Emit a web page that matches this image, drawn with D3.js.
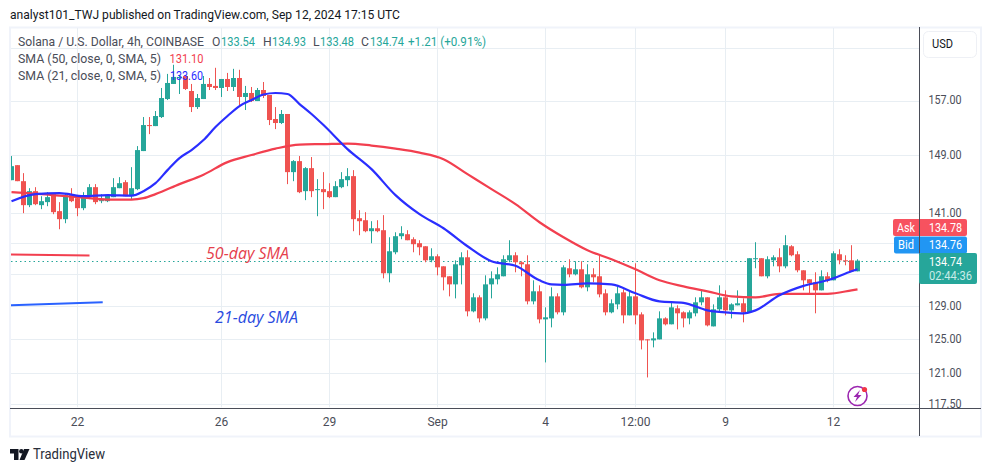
<!DOCTYPE html>
<html><head><meta charset="utf-8">
<script src="https://cdn.jsdelivr.net/npm/d3@7/dist/d3.min.js"></script>
<style>html,body{margin:0;padding:0;background:#fff;overflow:hidden}svg{display:block}text{font-family:Roboto,sans-serif}</style>
</head><body><svg id="c" width="991" height="472"></svg>
<script>
const opens=[145.50,147.60,145.36,142.07,143.98,142.07,142.48,143.57,141.26,140.18,143.43,143.02,141.66,143.16,144.53,142.61,142.61,143.16,144.39,145.22,143.29,144.26,149.60,153.36,153.21,154.54,157.22,159.50,160.41,160.72,158.43,156.02,157.22,159.50,159.20,158.89,160.26,159.04,160.41,157.53,158.13,156.92,158.58,157.83,154.25,153.66,154.99,146.62,148.17,143.98,147.18,144.12,144.26,143.98,143.16,144.53,145.50,146.06,140.31,140.04,138.58,138.97,138.71,133.12,135.82,137.92,138.18,137.52,137.00,136.60,134.78,135.30,134.01,132.74,131.72,134.14,135.17,128.37,130.10,127.51,131.72,132.36,132.74,134.78,135.43,134.53,134.27,129.60,130.85,127.39,127.51,130.22,128.25,133.76,132.99,133.63,131.35,132.99,132.74,130.60,128.25,129.23,130.72,127.88,130.22,128.00,124.98,124.86,124.98,127.51,126.79,128.74,128.25,127.51,128.13,129.48,130.10,126.54,128.62,130.10,128.49,129.11,129.36,128.25,134.92,135.05,132.74,134.78,135.17,134.01,136.60,135.56,133.50,132.36,131.98,130.97,132.74,132.23,135.56,134.78,134.78,133.37];
const highs=[148.89,147.60,146.48,144.39,144.53,143.29,143.84,143.71,142.48,143.57,144.39,143.43,143.84,144.95,144.95,143.57,143.57,145.78,145.92,145.50,147.32,150.31,154.54,154.54,155.43,158.89,161.04,162.45,160.88,160.72,159.50,157.98,160.72,160.41,161.98,160.26,161.19,161.82,161.67,159.20,159.04,158.89,159.80,157.83,156.02,155.58,154.99,148.31,148.89,147.32,148.75,145.64,146.62,145.08,145.36,146.62,147.18,146.90,141.39,141.12,139.91,140.04,140.72,137.78,138.44,139.24,138.71,137.78,137.39,136.60,136.34,135.56,134.01,132.74,134.78,135.82,136.08,130.60,130.35,132.86,133.37,133.88,135.43,137.39,135.82,134.66,135.43,132.23,131.60,128.86,131.35,130.60,134.14,134.92,134.66,134.66,134.27,133.76,135.43,131.10,129.85,131.47,131.10,130.97,134.40,128.25,124.98,125.82,128.37,127.64,129.48,129.11,128.37,128.49,130.10,130.97,130.10,129.23,131.60,130.97,129.36,130.97,129.97,135.05,137.13,135.05,135.30,135.43,136.34,138.05,136.74,135.95,133.50,132.36,133.25,133.50,133.25,135.95,136.21,135.43,136.74,134.92];
const lows=[145.50,145.36,140.99,141.80,142.07,141.53,141.93,140.85,138.84,139.64,142.48,140.58,141.39,142.89,142.20,142.34,142.48,143.16,144.39,143.29,142.89,144.12,149.60,152.04,153.21,154.40,157.07,159.50,157.98,158.58,155.28,155.73,157.22,158.58,158.58,157.53,158.43,158.43,156.02,155.58,156.77,156.92,157.37,153.36,152.77,153.51,144.95,145.36,143.71,142.75,143.16,140.58,141.53,143.02,143.16,144.39,144.67,138.58,138.05,138.44,137.00,138.44,132.48,131.98,135.56,137.52,137.39,135.82,135.43,134.53,134.53,132.86,130.97,130.22,129.97,131.72,127.76,128.25,127.03,127.27,129.97,131.72,132.74,134.53,133.25,132.74,129.23,129.23,126.91,122.26,126.42,128.00,127.88,132.61,132.86,131.22,130.85,131.98,130.10,127.88,128.13,128.62,126.91,127.88,126.79,123.79,120.52,124.03,124.98,126.66,126.79,126.18,126.42,126.79,127.76,129.11,126.54,126.54,128.25,127.88,127.51,129.11,127.03,128.25,133.76,132.74,132.48,134.01,133.25,133.76,135.30,133.25,130.97,130.47,128.13,130.97,131.98,132.23,134.27,134.14,133.37,133.37];
const closes=[147.46,145.36,142.07,143.98,142.20,142.61,143.16,141.12,140.18,143.43,142.61,141.66,143.43,144.53,142.48,142.75,143.43,144.53,145.08,143.29,144.39,149.74,153.36,153.21,154.69,157.37,159.65,160.57,160.57,158.74,156.02,157.37,159.50,159.04,158.89,160.26,159.04,160.41,157.53,158.13,156.92,158.58,157.68,154.10,153.66,154.99,146.62,148.17,143.84,147.18,143.98,144.26,143.84,143.16,144.67,145.64,146.06,140.18,139.91,138.58,138.97,138.58,133.12,135.95,137.92,138.31,137.39,136.87,136.47,134.78,135.30,133.88,132.61,131.72,134.27,135.17,128.37,130.10,127.51,131.72,132.48,132.99,134.92,135.43,134.53,134.27,129.60,130.85,127.39,127.64,130.22,128.25,133.88,132.99,133.63,131.35,132.99,132.61,130.47,128.25,129.36,130.60,127.88,130.22,127.88,124.86,124.86,125.10,127.51,126.79,128.86,128.13,127.51,128.25,129.48,130.10,126.66,128.62,130.10,128.49,129.23,129.36,128.25,135.05,135.05,132.74,134.92,135.17,134.01,136.74,135.43,133.50,132.23,131.85,130.97,132.74,132.23,135.69,134.78,134.66,133.37,134.74];

const sma21Index=[0,4,8,12,16,20,22,24,26,28,30,32,34,36,38,40,42,44,46,48,50,52,56,60,64,68,72,76,80,84,88,90,92,96,100,104,108,112,116,120,122,124,128,132,136,140,141];
const sma21Values=[142.61,143.57,143.71,143.29,143.43,143.36,143.98,145.08,146.90,148.60,149.74,151.18,153.07,154.69,156.17,157.07,157.90,158.13,157.98,156.47,154.99,153.36,149.88,147.04,143.43,140.85,138.97,136.60,134.66,134.07,132.23,131.72,131.66,131.85,131.72,130.60,129.60,129.42,128.49,128.19,128.13,128.49,130.35,131.53,132.23,133.37,133.63];
const sma50Index=[0,4,8,12,16,20,22,24,28,32,36,40,44,48,52,56,60,64,68,72,76,80,84,88,92,96,100,104,108,112,116,120,124,128,132,136,140,141];
const sma50Values=[143.84,143.64,143.36,143.09,142.82,142.82,143.02,143.57,144.95,146.27,148.03,149.03,149.95,150.53,150.60,150.68,150.39,149.95,149.38,148.45,146.34,144.26,142.20,139.77,137.78,136.08,134.92,133.63,132.23,131.47,130.85,130.22,130.10,130.54,130.54,130.54,130.97,131.10];

const priceTicks=[157,149,141,129,125,121,117.5];
const priceGrid=[165,157,149,141,137,133,129,125,121,117.5];
const timeIndex=[11,35,53,71,89,104,119,137];
const timeLabels=["22","26","29","Sep","4","12:00","9","12"];
const legendOHLC=[["O","133.54"],["H","134.93"],["L","133.48"],["C","134.74"],["+1.21 (+0.91%)",""]];
const lastPrice=134.74, askPrice="134.78", bidPrice="134.76";
const note50Index=[-0.25,13], note50Price=[135.53,135.40];
const note21Index=[-0.25,15.2], note21Price=[129.11,129.48];

const UP="#26a69a",DOWN="#ef5350",BLUE="#2a2eff",RED="#f23f4f",TXT="#4a4d58";
const svg=d3.select("#c");
const L=11,R=919,T=28,B=407.5;
const x=d3.scaleLinear().domain([0,141]).range([11.5,857.5]);
const y=d3.scaleLog().domain([117.5,157]).range([404,100.5]);

svg.append("text").attr("x",10).attr("y",19).attr("font-size",12.2).attr("fill","#131722")
 .attr("textLength",390).attr("lengthAdjust","spacingAndGlyphs")
 .text("analyst101_TWJ published on TradingView.com, Sep 12, 2024 17:15 UTC");

// frame
svg.append("rect").attr("x",10).attr("y",27.5).attr("width",971).attr("height",409).attr("fill","#fff").attr("stroke","#f0f3fa").attr("stroke-width",2);

const defs=svg.append("defs");
defs.append("clipPath").attr("id","pane").append("rect").attr("x",L).attr("y",T).attr("width",R-L).attr("height",B-T);
const pane=svg.append("g").attr("clip-path","url(#pane)");

pane.append("g").selectAll("line").data(priceGrid).join("line")
 .attr("x1",L).attr("x2",R).attr("y1",d=>Math.round(y(d))+.5).attr("y2",d=>Math.round(y(d))+.5).attr("stroke","#e8eef3");
pane.append("g").selectAll("line").data(timeIndex).join("line")
 .attr("y1",T).attr("y2",B).attr("x1",d=>Math.floor(x(d))+.5).attr("x2",d=>Math.floor(x(d))+.5).attr("stroke","#e8eef3");

pane.append("line").attr("x1",L).attr("x2",R).attr("y1",Math.round(y(lastPrice))+.5).attr("y2",Math.round(y(lastPrice))+.5)
 .attr("stroke",UP).attr("stroke-dasharray","1.5 3");

const idx=d3.range(opens.length);
const col=i=>closes[i]>=opens[i]?UP:DOWN;
pane.append("g").selectAll("rect").data(idx).join("rect")
 .attr("x",i=>x(i)-.5).attr("width",1)
 .attr("y",i=>y(highs[i])).attr("height",i=>y(lows[i])-y(highs[i])).attr("fill",col);
pane.append("g").selectAll("rect").data(idx).join("rect")
 .attr("x",i=>x(i)-2.5).attr("width",5)
 .attr("y",i=>y(Math.max(opens[i],closes[i])))
 .attr("height",i=>Math.max(1,Math.abs(y(opens[i])-y(closes[i])))).attr("fill",col);

const line=d3.line().x(d=>x(d[0])).y(d=>y(d[1])).curve(d3.curveMonotoneX);
pane.append("path").attr("d",line(d3.zip(sma50Index,sma50Values))).attr("fill","none").attr("stroke",RED).attr("stroke-width",2.2);
pane.append("path").attr("d",line(d3.zip(sma21Index,sma21Values))).attr("fill","none").attr("stroke",BLUE).attr("stroke-width",2.2);

// drawn annotations
pane.append("path").attr("d",line(d3.zip(note50Index,note50Price))).attr("fill","none").attr("stroke",RED).attr("stroke-width",2);
pane.append("path").attr("d",line(d3.zip(note21Index,note21Price))).attr("fill","none").attr("stroke","#2a62ff").attr("stroke-width",2);
const ann=(t,xp,yp,c)=>svg.append("text").attr("x",xp).attr("y",yp).attr("fill",c).attr("font-size",15.5).attr("font-style","italic")
 .style("font-family","'Open Sans',sans-serif").attr("textLength",83).attr("lengthAdjust","spacingAndGlyphs").text(t);
ann("50-day SMA",206,259,"#e5404c");
ann("21-day SMA",215,323,"#2a4be0");

// legend
const leg=svg.append("g").attr("font-size",12.2);
leg.append("text").attr("x",18).attr("y",46).attr("fill",TXT).attr("textLength",186).attr("lengthAdjust","spacingAndGlyphs").text("Solana / U.S. Dollar, 4h, COINBASE");
const lw=[212,263,313,361,408];
legendOHLC.forEach((d,k)=>{
 if(d[1]){
  leg.append("text").attr("y",46).attr("x",lw[k]).attr("fill",TXT).text(d[0]);
  leg.append("text").attr("y",46).attr("x",lw[k]+(k==2?7:9)).attr("fill",UP).attr("textLength",34).attr("lengthAdjust","spacingAndGlyphs").text(d[1]);
 } else leg.append("text").attr("y",46).attr("x",lw[k]).attr("fill",UP).attr("textLength",78).attr("lengthAdjust","spacingAndGlyphs").text(d[0]);
});
leg.append("text").attr("x",18).attr("y",63).attr("fill",TXT).attr("textLength",143).attr("lengthAdjust","spacingAndGlyphs").text("SMA (50, close, 0, SMA, 5)");
leg.append("text").attr("x",169.5).attr("y",63).attr("fill",RED).attr("textLength",34).attr("lengthAdjust","spacingAndGlyphs").text("131.10");
leg.append("text").attr("x",18).attr("y",80).attr("fill",TXT).attr("textLength",143).attr("lengthAdjust","spacingAndGlyphs").text("SMA (21, close, 0, SMA, 5)");
leg.append("text").attr("x",170).attr("y",80).attr("fill",BLUE).attr("textLength",33).attr("lengthAdjust","spacingAndGlyphs").text("133.60");

// axes
const axY=svg.append("g").attr("transform",`translate(${R+.5},-0.5)`).call(d3.axisRight(y).tickValues(priceTicks).tickSize(0).tickPadding(9).tickFormat(d3.format(".2f")));
axY.select(".domain").remove();
axY.selectAll("text").attr("font-size",12).attr("fill",TXT).style("font-family","Roboto,sans-serif").attr("textLength",33).attr("lengthAdjust","spacingAndGlyphs");
const axX=svg.append("g").attr("transform","translate(-0.5,408)").call(d3.axisBottom(x).tickValues(timeIndex).tickSize(0).tickPadding(9).tickFormat((d,i)=>timeLabels[i]));
axX.select(".domain").remove();
axX.selectAll("text").attr("font-size",12).attr("fill",TXT).style("font-family","Roboto,sans-serif");
svg.append("line").attr("x1",10).attr("x2",981).attr("y1",408.5).attr("y2",408.5).attr("stroke",TXT);
svg.append("line").attr("x1",919.5).attr("x2",919.5).attr("y1",27).attr("y2",436).attr("stroke",TXT);

// USD
svg.append("rect").attr("x",923.5).attr("y",31.5).attr("width",53).attr("height",26).attr("rx",5).attr("fill","#fff").attr("stroke","#eef0f5");
svg.append("text").attr("x",932).attr("y",47.5).attr("font-size",12).attr("fill","#131722").attr("textLength",21).attr("lengthAdjust","spacingAndGlyphs").text("USD");

// tags
const tag=(x0,y0,w,h,c,r)=>svg.append("rect").attr("x",x0).attr("y",y0).attr("width",w).attr("height",h).attr("rx",r||2).attr("fill",c);
tag(893,219,74,17,"#f7525f");
tag(894,236.5,73,17,"#2196f3");
tag(919,253,58,31,UP);
svg.append("line").attr("x1",919.5).attr("x2",919.5).attr("y1",219).attr("y2",253).attr("stroke",TXT);
const tt=(t,xp,yp,c,fs,len)=>svg.append("text").attr("x",xp).attr("y",yp).attr("fill",c).attr("font-size",fs||12).attr("textLength",len||null).attr("lengthAdjust","spacingAndGlyphs").text(t);
tt("Ask",897,232,"#fff",12,18); tt(askPrice,929,232,"#fff",12,33);
tt("Bid",898,249,"#fff",12,16); tt(bidPrice,929,249,"#fff",12,33);
tt(String(lastPrice),929,266,"#fff",12,33); tt("02:44:36",929,280,"#c9ece8",12,43);

// icon
const ic=svg.append("g").attr("transform","translate(857.5,396)");
ic.append("circle").attr("r",9.5).attr("fill","#fff").attr("stroke","#9c27b0").attr("stroke-width",1.6);
ic.append("path").attr("d","M2.5,-6 L-4,1 L-0.5,1 L-2.5,6 L4,-1 L0.5,-1 Z").attr("fill","#9c27b0");
ic.append("circle").attr("cx",7).attr("cy",-6.5).attr("r",2.6).attr("fill","#f23645");

// logo
const lg=svg.append("g").attr("fill","#131722");
lg.append("path").attr("d","M10,449 H18.5 V460 H14 V453.5 H10 Z");
lg.append("circle").attr("cx",21.3).attr("cy",451.2).attr("r",2.2);
lg.append("path").attr("d","M24,449 H29.5 L24.5,460 H19.5 Z");
svg.append("text").attr("x",33).attr("y",459).attr("font-size",14.2).attr("fill","#2a2e39").attr("textLength",72).attr("lengthAdjust","spacingAndGlyphs").text("TradingView");
</script></body></html>
